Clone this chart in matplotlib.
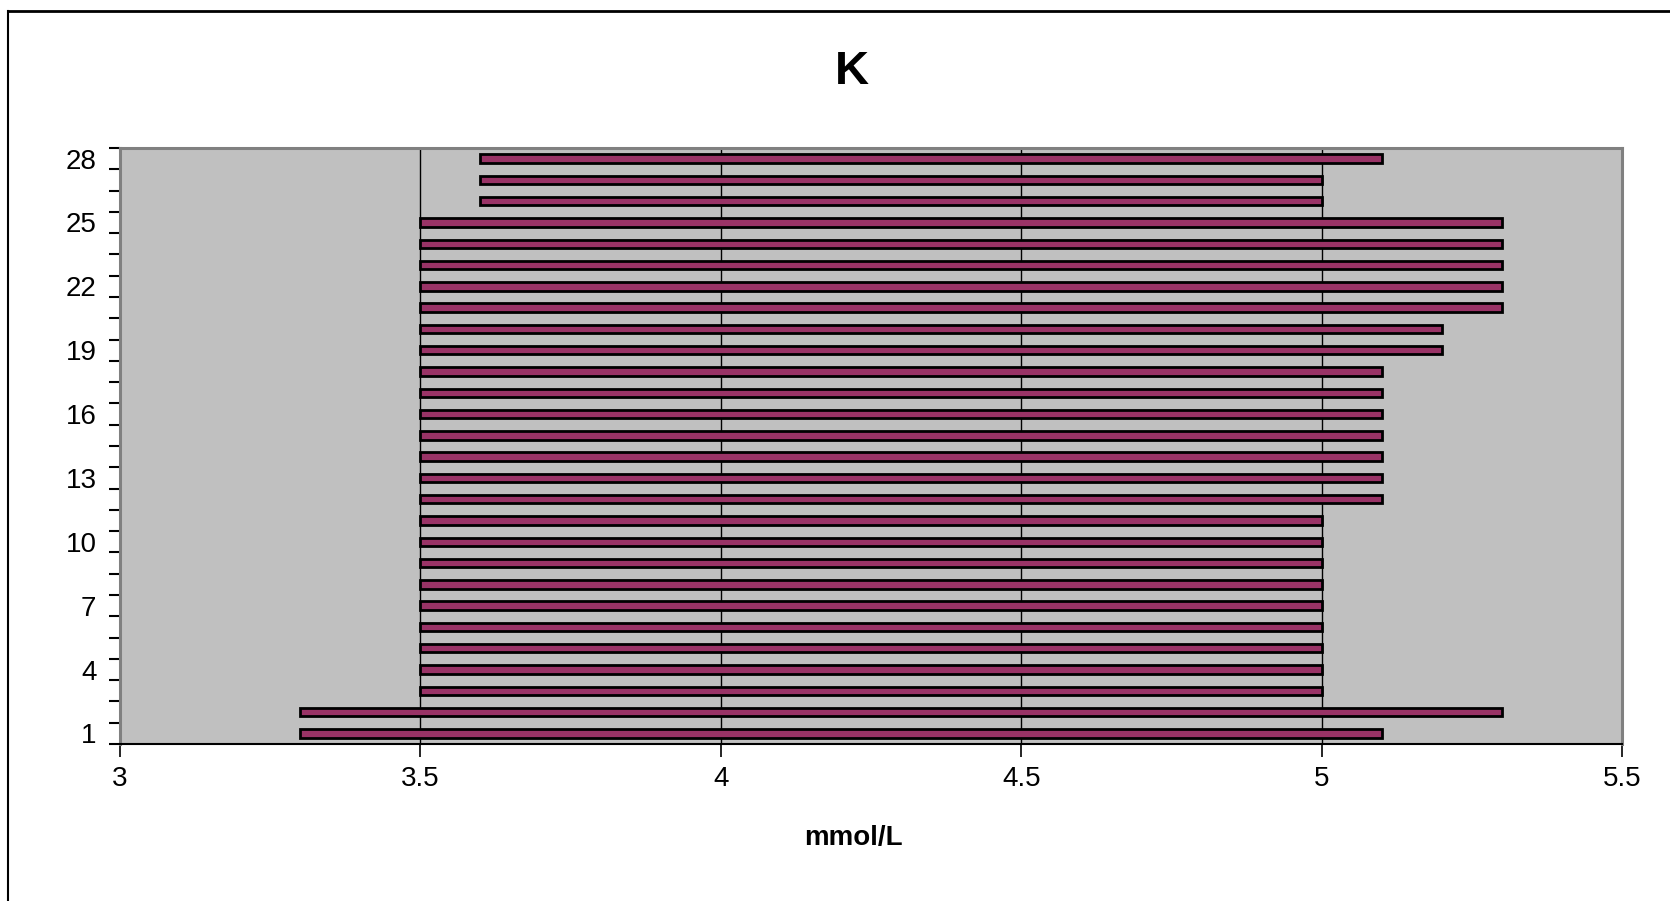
import matplotlib.pyplot as plt
from matplotlib.lines import Line2D

plt.rcParams['font.family'] = ['Liberation Sans', 'DejaVu Sans']

# day / row number, low and high of the range (mmol/L)
rows = list(range(1, 29))
lows = [3.3, 3.3, 3.5, 3.5, 3.5, 3.5, 3.5, 3.5, 3.5, 3.5,
        3.5, 3.5, 3.5, 3.5, 3.5, 3.5, 3.5, 3.5, 3.5, 3.5,
        3.5, 3.5, 3.5, 3.5, 3.5, 3.6, 3.6, 3.6]
highs = [5.1, 5.3, 5.0, 5.0, 5.0, 5.0, 5.0, 5.0, 5.0, 5.0,
         5.0, 5.1, 5.1, 5.1, 5.1, 5.1, 5.1, 5.1, 5.2, 5.2,
         5.3, 5.3, 5.3, 5.3, 5.3, 5.0, 5.0, 5.1]
row_labels = [1, 4, 7, 10, 13, 16, 19, 22, 25, 28]
x_ticks = [3, 3.5, 4, 4.5, 5, 5.5]
x_tick_labels = ['3', '3.5', '4', '4.5', '5', '5.5']

fig = plt.figure(figsize=(16.7, 9.01), dpi=100)
ax = fig.add_axes([120 / 1670, 1 - 744 / 901, 1502 / 1670, 596 / 901])
ax.set_facecolor('#C0C0C0')

widths = [h - l for l, h in zip(lows, highs)]
ax.barh(rows, widths, left=lows, height=0.40, color='#993366',
        edgecolor='black', linewidth=2.0, zorder=3)

ax.set_xlim(3, 5.5)
ax.set_ylim(0.5, 28.5)

ax.set_xticks(x_ticks)
ax.set_xticklabels(x_tick_labels)
ax.xaxis.grid(True, color='black', linewidth=1.0, zorder=1)
ax.set_axisbelow(True)

# tick marks between categories, labels on categories
ax.set_yticks([r + 0.5 for r in [0] + rows])
ax.set_yticklabels([])
ax.set_yticks(row_labels, minor=True)
ax.set_yticklabels([str(r) for r in row_labels], minor=True)
ax.tick_params(axis='y', which='major', length=8, width=1.5, color='black')
ax.tick_params(axis='y', which='minor', length=0, pad=17, labelsize=20)
ax.tick_params(axis='x', length=9, width=1.2, pad=7, labelsize=20)

for side in ['top', 'right', 'left']:
    ax.spines[side].set_color('#808080')
    ax.spines[side].set_linewidth(2.2)
ax.spines['bottom'].set_color('black')
ax.spines['bottom'].set_linewidth(1.5)

fig.text(852 / 1670, 1 - 72 / 901, 'K', ha='center', va='center',
         fontsize=34, fontweight='bold')
fig.text(853 / 1670, 1 - 838 / 901, 'mmol/L', ha='center', va='center',
         fontsize=20, fontweight='bold')

# chart frame
fig.add_artist(Line2D([8 / 1670, 1], [1 - 11 / 901, 1 - 11 / 901],
                      color='black', linewidth=2, transform=fig.transFigure))
fig.add_artist(Line2D([8 / 1670, 8 / 1670], [0, 1 - 11 / 901],
                      color='black', linewidth=1.5, transform=fig.transFigure))

fig.savefig('out.png', dpi=100)
